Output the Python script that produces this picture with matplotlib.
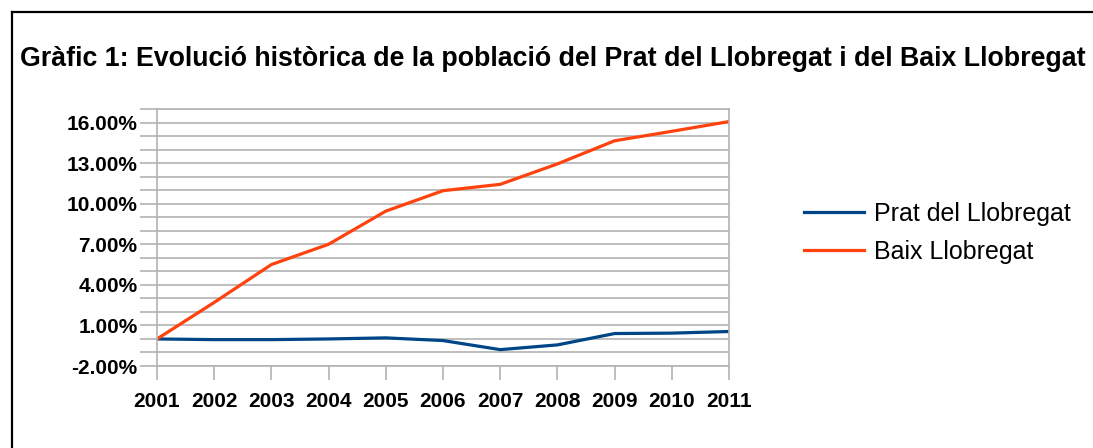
import matplotlib as mpl
mpl.use('Agg')
import matplotlib.pyplot as plt
from matplotlib.lines import Line2D
from matplotlib.ticker import MultipleLocator, FuncFormatter

years = [2001, 2002, 2003, 2004, 2005, 2006, 2007, 2008, 2009, 2010, 2011]
prat = [0.0, -0.05, -0.05, 0.0, 0.08, -0.12, -0.79, -0.44, 0.40, 0.43, 0.55]
baix = [0.0, 2.7, 5.5, 7.0, 9.45, 10.96, 11.43, 12.94, 14.65, 15.35, 16.07]
yticks = [-2, 1, 4, 7, 10, 13, 16]
title = "Gràfic 1: Evolució històrica de la població del Prat del Llobregat i del Baix Llobregat"

W, H = 1093, 448
plt.rcParams['font.family'] = ['Liberation Sans', 'DejaVu Sans']
fig = plt.figure(figsize=(W / 100, H / 100), dpi=100)

# outer frame
fig.add_artist(Line2D([12 / W, 12 / W], [0, 1 - 12 / H], color='black', lw=1.6))
fig.add_artist(Line2D([12 / W, 1], [1 - 12 / H, 1 - 12 / H], color='black', lw=1.6))

fig.text(20 / W, 1 - 66 / H, title, fontsize=19.3, fontweight='bold', va='baseline', ha='left')

x0, x1 = 157, 729
ytop, ybot = 109, 366
ax = fig.add_axes([x0 / W, 1 - ybot / H, (x1 - x0) / W, (ybot - ytop) / H])

ax.plot(years, prat, color='#004586', lw=2.3, label='Prat del Llobregat')
ax.plot(years, baix, color='#ff420e', lw=2.3, label='Baix Llobregat')

ax.set_xlim(2001, 2011)
ax.set_ylim(-2, 17)
ax.set_xticks(years)
ax.set_yticks(yticks)
ax.yaxis.set_minor_locator(MultipleLocator(1))
ax.yaxis.set_major_formatter(FuncFormatter(lambda v, p: '%.2f%%' % v))
ax.grid(which='both', axis='y', color='#b3b3b3', lw=1.2)
ax.set_axisbelow(True)
for s in ax.spines.values():
    s.set_color('#b3b3b3')
    s.set_linewidth(1.2)
ax.tick_params(axis='y', which='both', length=12, color='#b3b3b3', width=1.2, pad=2)
ax.tick_params(axis='x', length=10, color='#b3b3b3', width=1.2, pad=9)
for lab in ax.get_xticklabels() + ax.get_yticklabels():
    lab.set_fontsize(15)
    lab.set_fontweight('bold')

ax.legend(loc='center left', bbox_to_anchor=(794 / W, 1 - 233 / H), bbox_transform=fig.transFigure,
          frameon=False, fontsize=18, handlelength=2.4, handletextpad=0.4, labelspacing=0.55,
          borderaxespad=0)

fig.savefig('out.png', dpi=100)
